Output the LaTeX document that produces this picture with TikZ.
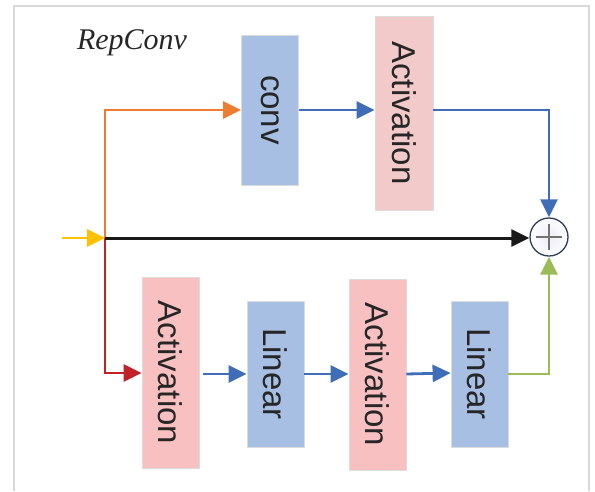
\documentclass[tikz,border=0pt]{standalone}
\usepackage{fontspec}
\setmainfont{Liberation Serif}
\newfontfamily\boxfont{Liberation Sans}
\usetikzlibrary{arrows.meta,calc}
\definecolor{boxblue}{HTML}{A6BFE2}
\definecolor{actpinkA}{HTML}{F3CACA}
\definecolor{actpinkB}{HTML}{F8C0C0}
\definecolor{boxedge}{HTML}{DCDCDC}
\definecolor{arrblue}{HTML}{3F6DB8}
\definecolor{arrorange}{HTML}{ED7D31}
\definecolor{arrred}{HTML}{C0212B}
\definecolor{arryellow}{HTML}{FFC000}
\definecolor{arrgreen}{HTML}{9BBB59}
\definecolor{frameg}{HTML}{D9D9D9}
\definecolor{sumedge}{HTML}{2E3E56}
\definecolor{sumfill}{HTML}{E0E2F2}
\tikzset{
  opbox/.style={draw=boxedge, line width=0.8pt, minimum width=57pt, inner sep=0pt},
  boxtext/.style={rotate=-90, font=\boxfont\fontsize{33}{40}\selectfont, text=black!85},
  bluebox/.style={opbox, fill=boxblue},
  pinkboxA/.style={opbox, fill=actpinkA},
  pinkboxB/.style={opbox, fill=actpinkB},
  tip/.style={-{Triangle[length=18pt,width=17pt]}},
  flow/.style={line width=2.8pt, tip},
}
\begin{document}
\begin{tikzpicture}[x=1pt,y=-1pt]
\useasboundingbox (0,0) rectangle (595,491);
% outer frame, open at the bottom
\draw[frameg, line width=1.5pt] (14,491) -- (14,6) -- (589,6) -- (589,491);
\node[font=\itshape\fontsize{30}{36}\selectfont, text=black!85] (title) at (132,43) {RepConv};
% upper branch
\node[bluebox, minimum height=150pt] (conv) at (270,110) {};
\node[boxtext] at (conv.center) {conv};
\node[pinkboxA, minimum width=58pt, minimum height=194pt] (actA) at (404,113) {};
\node[boxtext] at (actA.center) {Activation};
% lower branch
\node[pinkboxB, minimum height=191pt] (act1) at (170.5,372.5) {};
\node[boxtext] at (act1.center) {Activation};
\node[bluebox, minimum height=146pt] (lin1) at (275.5,374) {};
\node[boxtext] at (lin1.center) {Linear};
\node[pinkboxB, minimum height=191pt] (act2) at (377.5,374.5) {};
\node[boxtext] at (act2.center) {Activation};
\node[bluebox, minimum height=146pt] (lin2) at (479.5,374) {};
\node[boxtext] at (lin2.center) {Linear};
% summation node
\node[circle, draw=sumedge, line width=1.3pt, minimum size=38pt, inner sep=0pt,
  inner color=sumfill!60, outer color=sumfill!100!blue!6] (sum) at (549,237) {};
\draw[gray!90!black, line width=2pt] ($(sum.center)+(-13,0)$) -- ($(sum.center)+(13,0)$)
  ($(sum.center)+(0,-13)$) -- ($(sum.center)+(0,13)$);
% connectors
\coordinate (in) at (62,238);
\coordinate (split) at (105,238);
\draw[arrorange, flow] (split) |- (conv.west);
\draw[arrred, flow] (split) |- (act1.west |- 0,373);
\draw[black!90, line width=3pt, tip] (split) -- (split -| sum.west);
\draw[arryellow, flow] (in) -- (split);
\draw[arrblue, flow] (conv.east) -- (conv.east -| actA.west);
\draw[arrblue, flow] (conv.east -| actA.east) -| (sum.north);
\draw[arrblue, flow] ([xshift=4pt]act1.east |- 0,374) -- (lin1.west |- 0,374);
\draw[arrblue, flow] (lin1.east |- 0,374) -- (act2.west |- 0,374);
\draw[arrblue, flow] (act2.east |- 0,374) -- (lin2.west |- 0,373);
\draw[arrgreen, flow] (lin2.east) -| (sum.south);
\end{tikzpicture}
\end{document}
